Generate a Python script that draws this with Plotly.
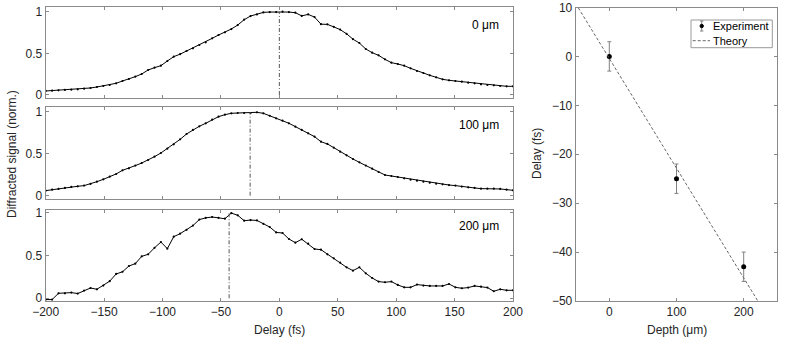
import numpy as np
import plotly.graph_objects as go

W, H = 785, 348

# ---------------- data ----------------
delay_fs = np.linspace(-200, 200, 74)

signal_0um = [0.048, 0.052, 0.056, 0.06, 0.064, 0.068, 0.076, 0.084, 0.096, 0.108,
              0.12, 0.14, 0.168, 0.192, 0.22, 0.252, 0.30, 0.328, 0.352, 0.408,
              0.46, 0.49, 0.528, 0.56, 0.60, 0.632, 0.68, 0.72, 0.752, 0.792,
              0.84, 0.904, 0.948, 0.968, 0.992, 0.996, 0.996, 1.0, 0.996, 0.988,
              0.95, 0.968, 0.935, 0.85, 0.848, 0.818, 0.785, 0.735, 0.67, 0.624,
              0.552, 0.508, 0.476, 0.428, 0.388, 0.372, 0.352, 0.32, 0.288, 0.264,
              0.236, 0.212, 0.188, 0.176, 0.168, 0.16, 0.148, 0.14, 0.128, 0.12,
              0.116, 0.108, 0.104, 0.104]

signal_100um = [0.06, 0.072, 0.08, 0.092, 0.104, 0.112, 0.12, 0.14, 0.167, 0.195,
                0.227, 0.259, 0.303, 0.327, 0.359, 0.39, 0.426, 0.466, 0.51, 0.562,
                0.614, 0.673, 0.737, 0.785, 0.829, 0.865, 0.908, 0.944, 0.968, 0.984,
                0.988, 0.988, 0.988, 0.996, 0.984, 0.955, 0.924, 0.896, 0.865, 0.825,
                0.785, 0.745, 0.705, 0.645, 0.618, 0.574, 0.526, 0.482, 0.438, 0.398,
                0.359, 0.323, 0.283, 0.247, 0.235, 0.223, 0.207, 0.191, 0.179, 0.167,
                0.155, 0.143, 0.135, 0.127, 0.12, 0.108, 0.1, 0.092, 0.084, 0.084,
                0.084, 0.08, 0.072, 0.064]

signal_200um = [-0.015, -0.015, 0.058, 0.058, 0.066, 0.055, 0.09, 0.12, 0.105, 0.148,
                0.2, 0.284, 0.31, 0.377, 0.405, 0.49, 0.514, 0.59, 0.657, 0.58,
                0.72, 0.755, 0.80, 0.85, 0.92, 0.94, 0.95, 0.94, 0.93, 0.996,
                0.97, 0.907, 0.914, 0.91, 0.87, 0.833, 0.77, 0.763, 0.693, 0.65,
                0.69, 0.638, 0.576, 0.568, 0.514, 0.467, 0.416, 0.362, 0.323, 0.362,
                0.292, 0.237, 0.195, 0.187, 0.195, 0.156, 0.128, 0.128, 0.16, 0.148,
                0.144, 0.144, 0.144, 0.167, 0.128, 0.117, 0.125, 0.144, 0.136, 0.125,
                0.082, 0.105, 0.093, 0.093]

panel_labels = ["0 μm", "100 μm", "200 μm"]

depth_um = [0, 100, 200]
peak_delay_fs = [0, -25, -43]
peak_err_fs = [3, 3, 3]

theory_depth_um = [-50, 250]
theory_delay_fs = [10.8, -56.5]

legend_labels = ["Experiment", "Theory"]

x_ticks = [-200, -150, -100, -50, 0, 50, 100, 150, 200]
y_ticks = [0, 0.5, 1]
y_ticklabels = ["0", "0.5", "1"]
depth_ticks = [0, 100, 200]
delay_ticks = [-50, -40, -30, -20, -10, 0, 10]

# ---------------- helpers ----------------
def px(x):
    return x / W

def py(y):
    return 1 - y / H

FONT = "Liberation Sans, Arial, sans-serif"
AX_LINE = "#8a8a8a"
TXT = "#262626"

fig = go.Figure()

signals = [signal_0um, signal_100um, signal_200um]
for k, sig in enumerate(signals):
    ax = "" if k == 0 else str(k + 1)
    fig.add_trace(go.Scatter(
        x=delay_fs, y=sig, mode="lines+markers",
        line=dict(color="black", width=1),
        marker=dict(color="black", size=2.2),
        xaxis="x" + ax, yaxis="y" + ax, showlegend=False, hoverinfo="skip"))
    fig.add_trace(go.Scatter(
        x=[peak_delay_fs[k], peak_delay_fs[k]], y=[0, 1], mode="lines",
        line=dict(color="#555555", width=1, dash="4px,2px,1px,2px"),
        xaxis="x" + ax, yaxis="y" + ax, showlegend=False, hoverinfo="skip"))

# right panel
fig.add_trace(go.Scatter(
    x=depth_um, y=peak_delay_fs, mode="markers", name=legend_labels[0],
    marker=dict(color="black", size=5),
    error_y=dict(type="data", array=peak_err_fs, color="#808080", thickness=1, width=2),
    xaxis="x4", yaxis="y4", showlegend=False))
fig.add_trace(go.Scatter(
    x=theory_depth_um, y=theory_delay_fs, mode="lines", name=legend_labels[1],
    line=dict(color="#666666", width=1, dash="3px,2px"),
    xaxis="x4", yaxis="y4", showlegend=False))

# ---------------- axes ----------------
common = dict(showline=True, linecolor=AX_LINE, linewidth=1, mirror="ticks",
              ticks="inside", ticklen=3, tickcolor=AX_LINE, showgrid=False,
              zeroline=False, automargin=False,
              tickfont=dict(family=FONT, size=12, color=TXT))

left_dom_x = [px(45.7), px(513)]
panel_y = [(7.3, 98.3), (107.3, 199), (210, 301)]
panel_yr = [[-0.04, 1.053], [-0.04, 1.056], [-0.032, 1.032]]

layout = dict(width=W, height=H, autosize=False,
              margin=dict(l=0, r=0, t=0, b=0, pad=0),
              paper_bgcolor="white", plot_bgcolor="white",
              font=dict(family=FONT, size=12, color=TXT), showlegend=False)

for k in range(3):
    ax = "" if k == 0 else str(k + 1)
    layout["xaxis" + ax] = dict(common, domain=left_dom_x, range=[-200, 200],
                                tickvals=x_ticks, showticklabels=(k == 2),
                                anchor="y" + ax)
    y0, y1 = panel_y[k]
    layout["yaxis" + ax] = dict(common, domain=[py(y1), py(y0)], range=panel_yr[k],
                                tickvals=y_ticks, ticktext=y_ticklabels,
                                anchor="x" + ax)

layout["xaxis4"] = dict(common, domain=[px(575.7), px(777.3)], range=[-50, 250],
                        tickvals=depth_ticks, anchor="y4")
layout["yaxis4"] = dict(common, domain=[py(301), py(7.5)], range=[-50, 10],
                        tickvals=delay_ticks, anchor="x4")

ann = []
label_y = [25, 125, 226]
for k in range(3):
    ann.append(dict(x=px(501), y=py(label_y[k]), xref="paper", yref="paper",
                    text=panel_labels[k], showarrow=False, xanchor="right",
                    yanchor="middle", font=dict(family=FONT, size=12, color="black")))
ann.append(dict(x=px(12), y=py(154), xref="paper", yref="paper",
                text="Diffracted signal (norm.)", showarrow=False, textangle=-90,
                xanchor="center", yanchor="middle",
                font=dict(family=FONT, size=12, color=TXT)))
ann.append(dict(x=px(279), y=py(330), xref="paper", yref="paper",
                text="Delay (fs)", showarrow=False, xanchor="center", yanchor="middle",
                font=dict(family=FONT, size=12, color=TXT)))
ann.append(dict(x=px(676.5), y=py(330), xref="paper", yref="paper",
                text="Depth (μm)", showarrow=False, xanchor="center", yanchor="middle",
                font=dict(family=FONT, size=12, color=TXT)))
ann.append(dict(x=px(537), y=py(154), xref="paper", yref="paper",
                text="Delay (fs)", showarrow=False, textangle=-90,
                xanchor="center", yanchor="middle",
                font=dict(family=FONT, size=12, color=TXT)))

# compact legend (MATLAB style)
ann.append(dict(x=px(711), y=py(26), xref="paper", yref="paper",
                text=legend_labels[0], showarrow=False, xanchor="left", yanchor="middle",
                font=dict(family=FONT, size=11, color="black")))
ann.append(dict(x=px(711), y=py(40.5), xref="paper", yref="paper",
                text=legend_labels[1], showarrow=False, xanchor="left", yanchor="middle",
                font=dict(family=FONT, size=11, color="black")))
layout["annotations"] = ann

shapes = [
    dict(type="rect", xref="paper", yref="paper", x0=px(691), x1=px(772.3),
         y0=py(47.7), y1=py(20), line=dict(color="#999999", width=1),
         fillcolor="white", layer="above"),
    dict(type="line", xref="paper", yref="paper", x0=px(701.7), x1=px(701.7),
         y0=py(31), y1=py(21), line=dict(color="#808080", width=1), layer="above"),
    dict(type="line", xref="paper", yref="paper", x0=px(700), x1=px(703.4),
         y0=py(21), y1=py(21), line=dict(color="#808080", width=1), layer="above"),
    dict(type="line", xref="paper", yref="paper", x0=px(700), x1=px(703.4),
         y0=py(31), y1=py(31), line=dict(color="#808080", width=1), layer="above"),
    dict(type="circle", xref="paper", yref="paper", x0=px(700), x1=px(703.4),
         y0=py(27.7), y1=py(24.3), line=dict(color="black", width=1),
         fillcolor="black", layer="above"),
    dict(type="line", xref="paper", yref="paper", x0=px(692.7), x1=px(710),
         y0=py(40.7), y1=py(40.7), line=dict(color="#666666", width=1, dash="3px,2px"),
         layer="above"),
]
layout["shapes"] = shapes

fig.update_layout(**layout)
fig.write_html("out.html",
               config={"displayModeBar": False},
               post_script="document.body.style.margin='0';document.body.style.padding='0';")
